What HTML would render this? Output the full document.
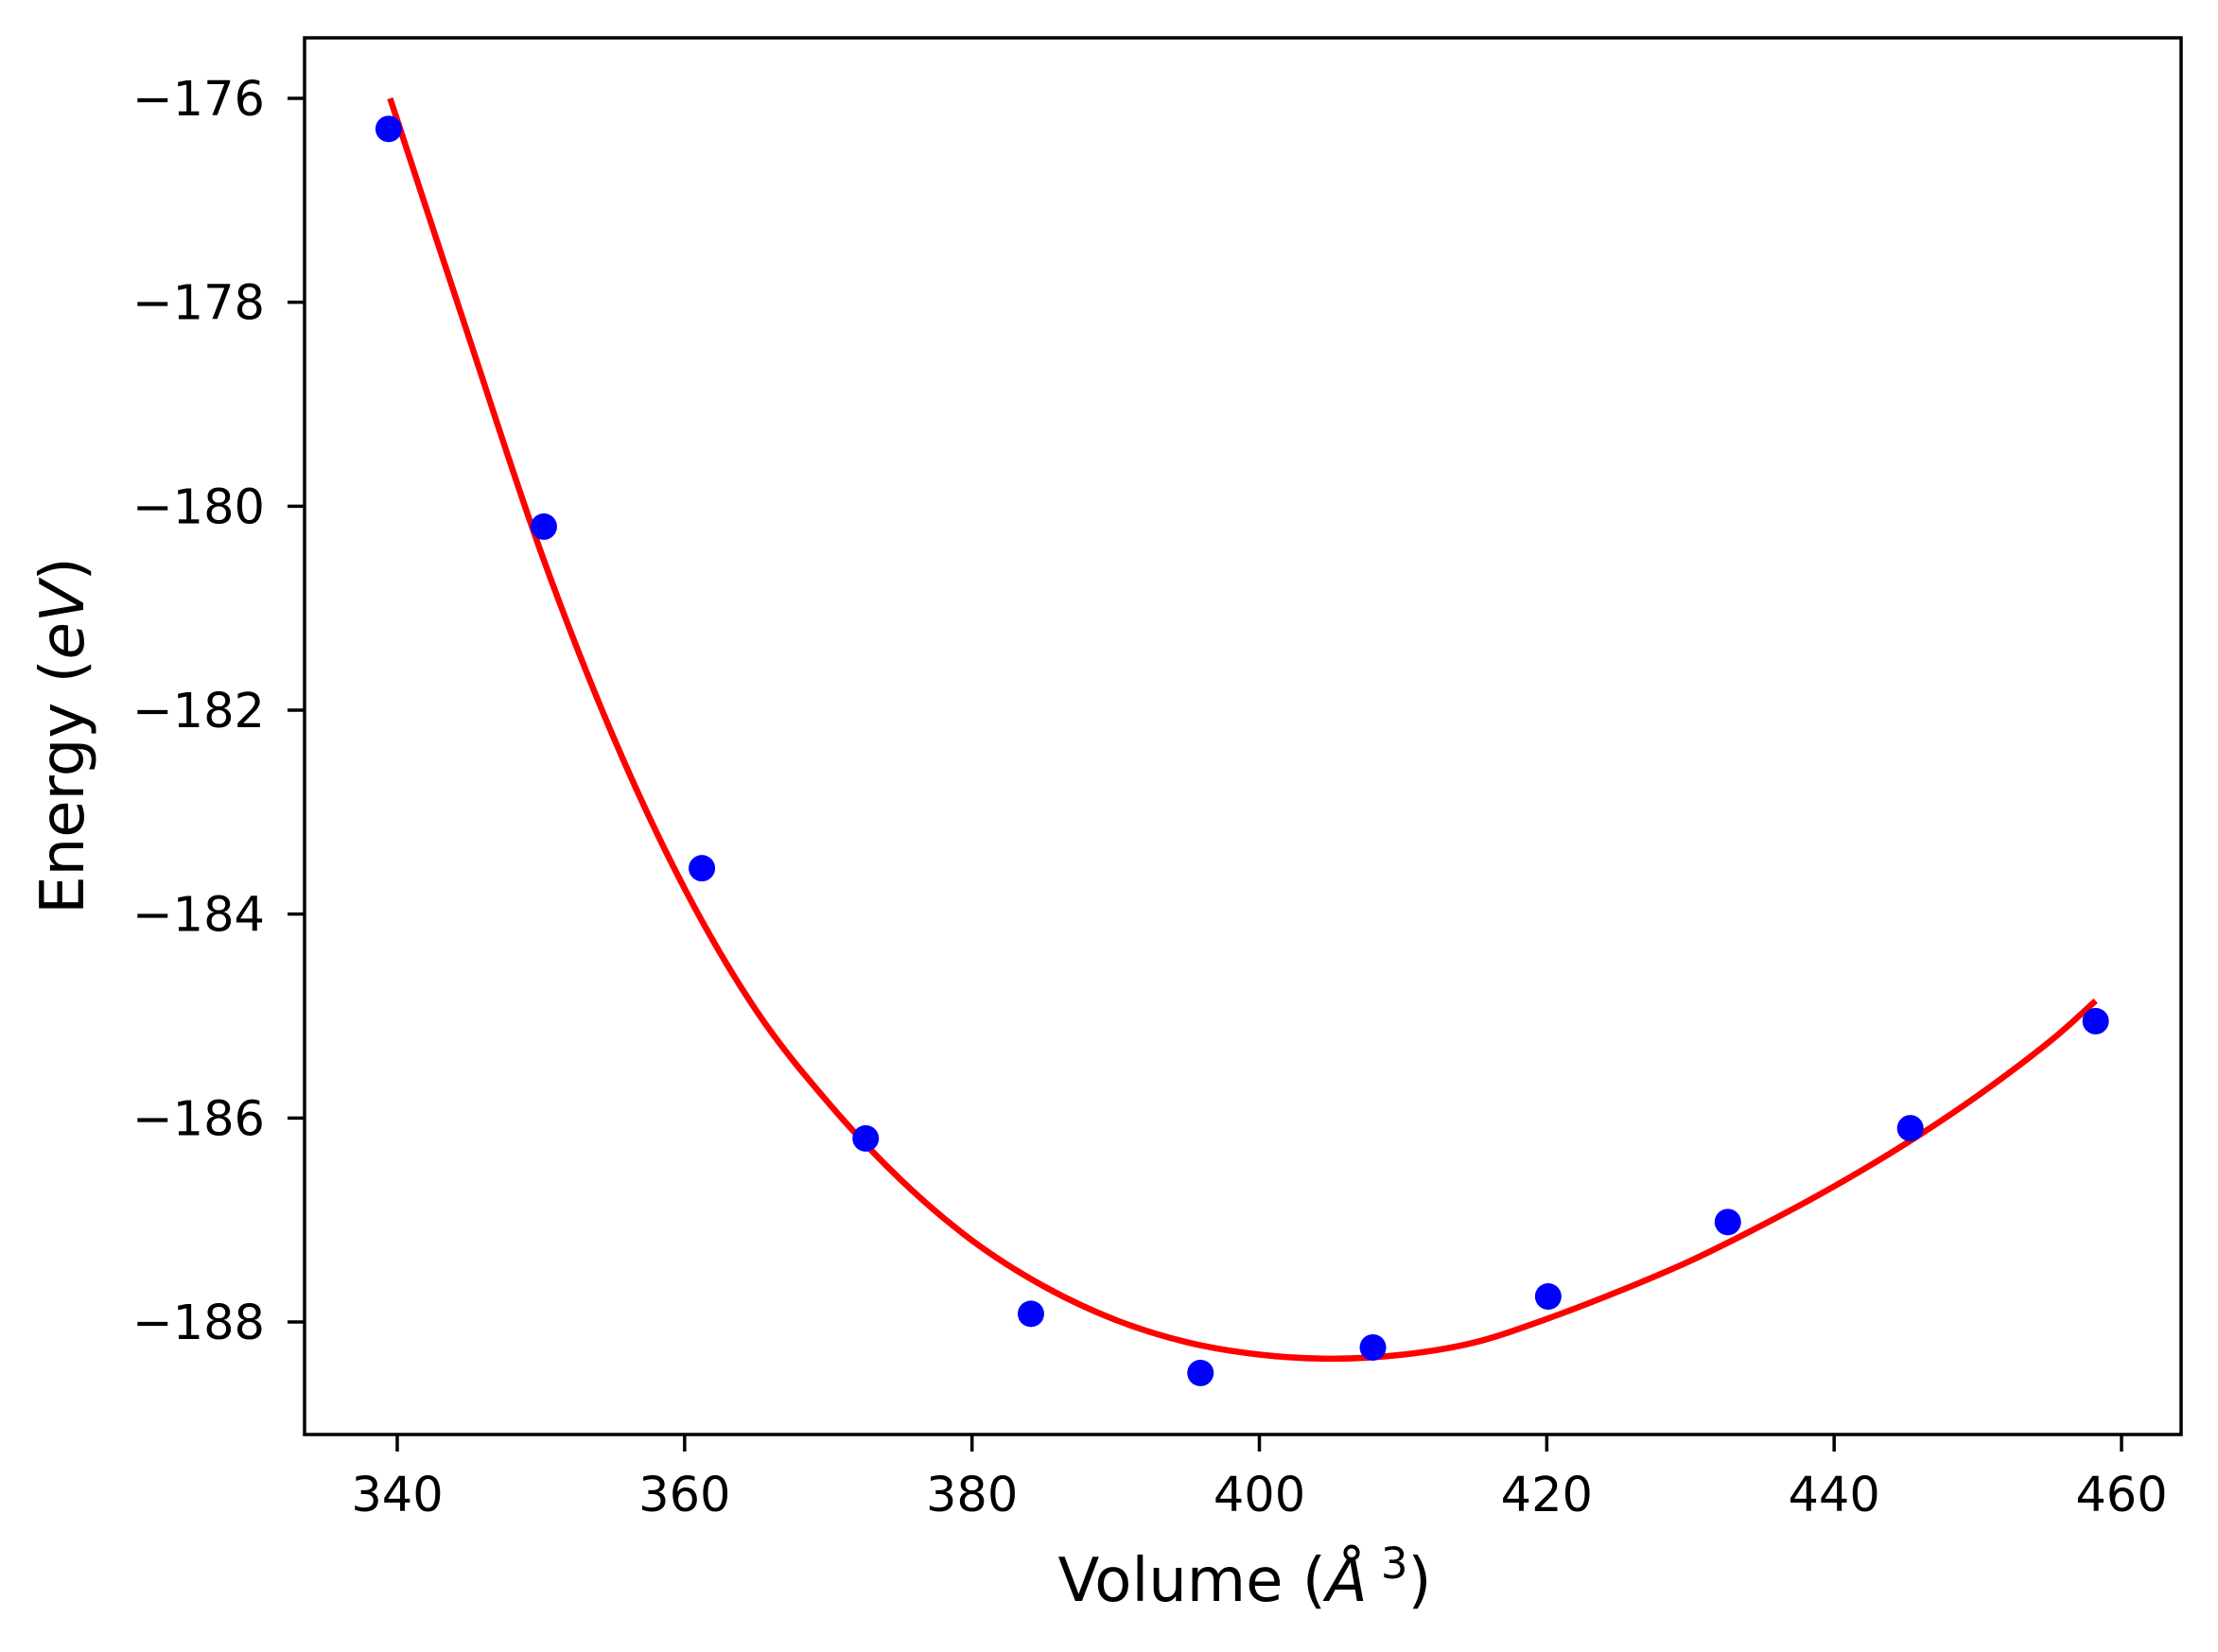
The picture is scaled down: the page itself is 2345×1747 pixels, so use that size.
<!DOCTYPE html>
<html><head><meta charset="utf-8"><style>
html,body{margin:0;padding:0;background:#fff;}
svg{display:block;font-family:"DejaVu Sans","Liberation Sans",sans-serif;}
</style></head><body>
<svg id="chart" width="2345" height="1747" viewBox="0 0 2345 1747" xmlns="http://www.w3.org/2000/svg">
<rect width="2345" height="1747" fill="#fff"/>
<g id="plot"></g>
<rect x="322" y="40" width="1984" height="1477" fill="none" stroke="#000" stroke-width="3.5"/>
<g id="xticks"></g>
<g id="yticks"></g>
<text x="1316" y="1693" font-size="64" text-anchor="middle">Volume (<tspan font-style="italic">Å</tspan><tspan font-size="45" dy="-24"> 3</tspan><tspan dy="24">)</tspan></text>
<text transform="translate(88,778) rotate(-90)" font-size="64" text-anchor="middle">Energy (<tspan font-style="italic">eV</tspan>)</text>
</svg>
<script>
const volumes=[339.4,350.2,361.2,372.6,384.1,395.9,407.9,420.1,432.6,445.3,458.2];
const energies=[-176.3,-180.2,-183.55,-186.2,-187.92,-188.5,-188.25,-187.75,-187.02,-186.1,-185.05];
const fitV=[339.5,345,350,355,360,365,370,375,380,385,390,395,400,405,410,415,420,425,430,435,440,445,450,455,458.2];
const fitE=[-176.0,-178.35,-180.45,-182.25,-183.75,-184.95,-185.85,-186.6,-187.2,-187.65,-187.98,-188.2,-188.32,-188.36,-188.32,-188.2,-187.97,-187.7,-187.4,-187.05,-186.67,-186.25,-185.78,-185.25,-184.85];
const xTicks=[340,360,380,400,420,440,460];
const yTicks=[-176,-178,-180,-182,-184,-186,-188];
const NS='http://www.w3.org/2000/svg';
const xs=v=>420+(v-340)*(2243-420)/120;
const ys=e=>104+(-176-e)*(1398-104)/12;
function mk(t,a,p){const el=document.createElementNS(NS,t);for(const k in a)el.setAttribute(k,a[k]);p.appendChild(el);return el;}
const plot=document.getElementById('plot');
const pts=fitV.map((v,i)=>[xs(v),ys(fitE[i])]);
let d='M'+pts[0][0]+','+pts[0][1];
for(let i=0;i<pts.length-1;i++){const p0=pts[Math.max(i-1,0)],p1=pts[i],p2=pts[i+1],p3=pts[Math.min(i+2,pts.length-1)];
d+=' C'+(p1[0]+(p2[0]-p0[0])/6)+','+(p1[1]+(p2[1]-p0[1])/6)+' '+(p2[0]-(p3[0]-p1[0])/6)+','+(p2[1]-(p3[1]-p1[1])/6)+' '+p2[0]+','+p2[1];}
const line=mk('path',{d:d,fill:'none',stroke:'#ff0000','stroke-width':6.5},plot);


volumes.forEach((v,i)=>{const c=mk('circle',{cx:xs(v),cy:ys(energies[i]),r:14,fill:'#0000ff'},plot);

});
const xg=document.getElementById('xticks');
xTicks.forEach(t=>{const x=xs(t);
const l=mk('line',{x1:x,x2:x,y1:1517,y2:1535,stroke:'#000','stroke-width':3.5},xg);


const tx=mk('text',{x:x,y:1598,'font-size':51,'text-anchor':'middle'},xg);tx.textContent=t;

});
const yg=document.getElementById('yticks');
yTicks.forEach(t=>{const y=ys(t);
const l=mk('line',{x1:304,x2:322,y1:y,y2:y,stroke:'#000','stroke-width':3.5},yg);


const tx=mk('text',{x:280,y:y+18,'font-size':51,'text-anchor':'end'},yg);tx.textContent='\u2212'+Math.abs(t);

});
</script>
</body></html>
